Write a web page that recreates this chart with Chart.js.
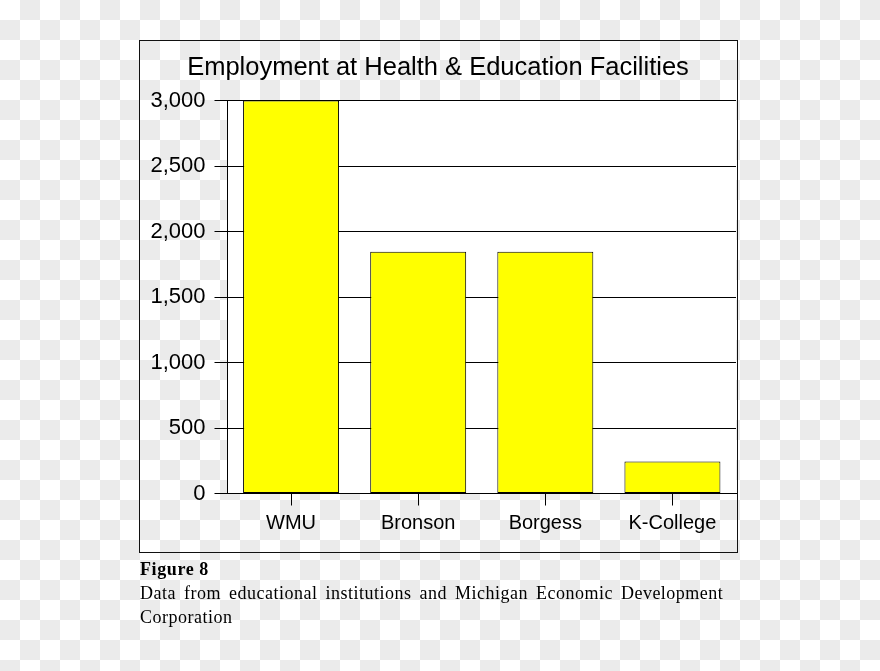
<!DOCTYPE html>
<html>
<head>
<meta charset="utf-8">
<script src="https://cdn.jsdelivr.net/npm/chart.js@4.4.1/dist/chart.umd.min.js"></script>
<style>
    html, body { margin: 0; padding: 0; background: #ffffff; }
    body {
        width: 880px; height: 671px; position: relative; overflow: hidden;
        font-family: "Liberation Serif", "Times New Roman", serif;
    }
    #checker { position: absolute; left: 0; top: 0; }
    #frame {
        position: absolute; left: 139px; top: 40px;
        width: 597px; height: 511px;
        border: 1px solid #111;
    }
    #frame canvas { display: block; }
    #caption {
        position: absolute; left: 140px; top: 557px; width: 680px;
        font-size: 18px; line-height: 24px; color: #000;
        letter-spacing: 0.5px; word-spacing: 3px;
    }
    #caption b { letter-spacing: 0.6px; word-spacing: 0; }
</style>
</head>
<body>
<canvas id="checker" width="880" height="671"></canvas>
<div id="frame"><canvas id="barChart" width="597" height="511"></canvas></div>
<div id="caption">
    <b>Figure 8</b><br>
    Data from educational institutions and Michigan Economic Development<br>
    Corporation
</div>
<script>
"use strict";

// ===== DATA =====
const categories = ['WMU', 'Bronson', 'Borgess', 'K-College'];
const employees = [3000, 1845, 1845, 245];
const yTicks = [0, 500, 1000, 1500, 2000, 2500, 3000];

const chartTitle = 'Employment at Health & Education Facilities';

// transparency checkerboard behind the figure
function drawChecker() {
    const cv = document.getElementById('checker');
    const c = cv.getContext('2d');
    const size = 20;
    c.fillStyle = '#ffffff';
    c.fillRect(0, 0, cv.width, cv.height);
    c.fillStyle = '#ebebeb';
    for (let row = 0; row * size < cv.height; row++) {
        for (let col = 0; col * size < cv.width; col++) {
            if ((row + col) % 2 === 1) c.fillRect(col * size, row * size, size, size);
        }
    }
}
drawChecker();

// White plot area, the rest stays see-through
const plotBackground = {
    id: 'plotBackground',
    beforeDraw(chart) {
        const { ctx, chartArea } = chart;
        ctx.save();
        ctx.fillStyle = '#ffffff';
        ctx.fillRect(chartArea.left, chartArea.top, chartArea.right - chartArea.left, chartArea.bottom - chartArea.top);
        ctx.restore();
    }
};

Chart.defaults.font.family = '"Liberation Sans", Arial, sans-serif';
Chart.defaults.color = '#000';

const ctx = document.getElementById('barChart');
new Chart(ctx, {
    type: 'bar',
    data: {
        labels: categories,
        datasets: [{
            label: 'Employees',
            data: employees,
            backgroundColor: '#ffff00',
            borderColor: '#000',
            borderWidth: 1,
            borderSkipped: false,
            categoryPercentage: 1,
            barPercentage: 0.755
        }]
    },
    options: {
        responsive: false,
        animation: false,
        layout: { padding: { left: 0, right: 1, top: 0, bottom: 0 } },
        plugins: {
            legend: { display: false },
            tooltip: { enabled: false },
            title: {
                display: true,
                text: chartTitle,
                color: '#000',
                font: { size: 25.5, weight: 'normal' },
                padding: { top: 12, bottom: 17 }
            }
        },
        scales: {
            x: {
                offset: true,
                grid: { display: true, offset: false, drawOnChartArea: false, drawTicks: true, tickLength: 12, color: '#000' },
                border: { display: true, color: '#000' },
                ticks: { font: { size: 20 }, padding: 6, maxRotation: 0 },
                afterFit(scale) { scale.height = 58.5; }
            },
            y: {
                min: 0,
                max: 3000,
                afterBuildTicks(scale) { scale.ticks = yTicks.map(v => ({ value: v })); },
                grid: { color: '#000', tickLength: 13, drawTicks: true },
                border: { display: true, color: '#000' },
                ticks: {
                    font: { size: 22 },
                    padding: 9,
                    callback: v => v.toLocaleString('en-US')
                },
                afterFit(scale) { scale.width = 87.5; }
            }
        }
    },
    plugins: [plotBackground]
});
</script>
</body>
</html>
